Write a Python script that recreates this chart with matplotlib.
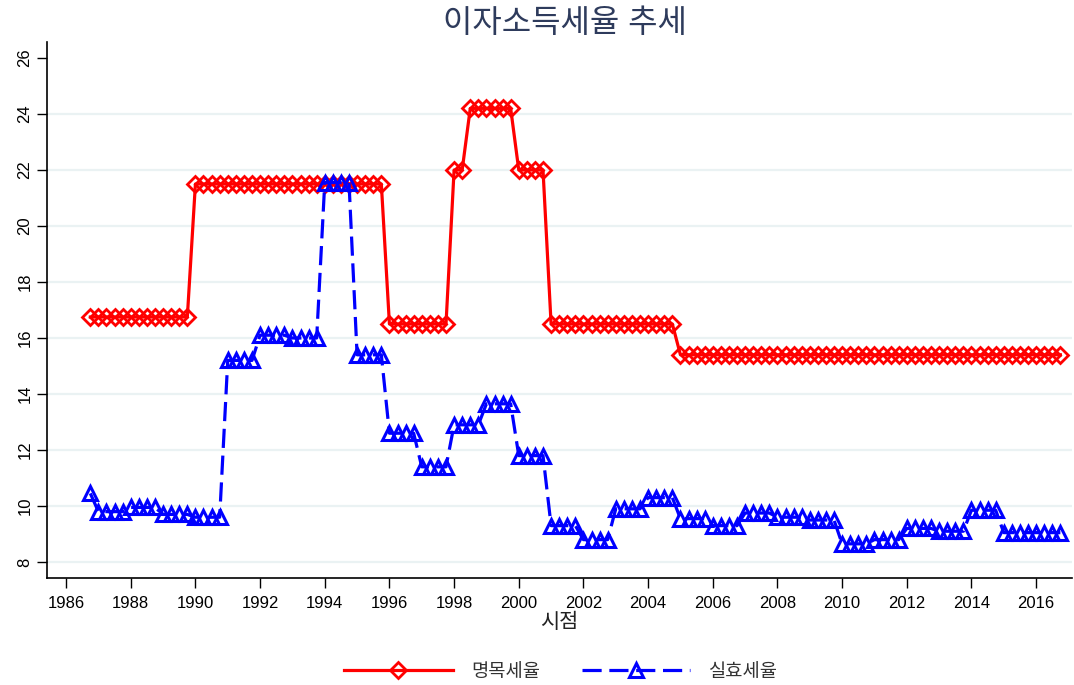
import matplotlib
matplotlib.use("Agg")
import matplotlib.pyplot as plt
import numpy as np

plt.rcParams['font.family'] = ['Liberation Sans', 'Noto Sans CJK KR', 'DejaVu Sans']

# quarterly series, 1986Q4 .. 2016Q4
start_year = 1986
start_quarter = 4

nominal_rate = [
	16.75,
	16.75, 16.75, 16.75, 16.75,  # 1987
	16.75, 16.75, 16.75, 16.75,  # 1988
	16.75, 16.75, 16.75, 16.75,  # 1989
	21.5, 21.5, 21.5, 21.5,  # 1990
	21.5, 21.5, 21.5, 21.5,  # 1991
	21.5, 21.5, 21.5, 21.5,  # 1992
	21.5, 21.5, 21.5, 21.5,  # 1993
	21.5, 21.5, 21.5, 21.5,  # 1994
	21.5, 21.5, 21.5, 21.5,  # 1995
	16.5, 16.5, 16.5, 16.5,  # 1996
	16.5, 16.5, 16.5, 16.5,  # 1997
	22.0, 22.0, 24.2, 24.2,  # 1998
	24.2, 24.2, 24.2, 24.2,  # 1999
	22.0, 22.0, 22.0, 22.0,  # 2000
	16.5, 16.5, 16.5, 16.5,  # 2001
	16.5, 16.5, 16.5, 16.5,  # 2002
	16.5, 16.5, 16.5, 16.5,  # 2003
	16.5, 16.5, 16.5, 16.5,  # 2004
	15.4, 15.4, 15.4, 15.4,  # 2005
	15.4, 15.4, 15.4, 15.4,  # 2006
	15.4, 15.4, 15.4, 15.4,  # 2007
	15.4, 15.4, 15.4, 15.4,  # 2008
	15.4, 15.4, 15.4, 15.4,  # 2009
	15.4, 15.4, 15.4, 15.4,  # 2010
	15.4, 15.4, 15.4, 15.4,  # 2011
	15.4, 15.4, 15.4, 15.4,  # 2012
	15.4, 15.4, 15.4, 15.4,  # 2013
	15.4, 15.4, 15.4, 15.4,  # 2014
	15.4, 15.4, 15.4, 15.4,  # 2015
	15.4, 15.4, 15.4, 15.4,  # 2016
]

effective_rate = [
	10.45,
	9.8, 9.8, 9.8, 9.8,  # 1987
	9.95, 9.95, 9.95, 9.95,  # 1988
	9.7, 9.7, 9.7, 9.7,  # 1989
	9.6, 9.6, 9.6, 9.6,  # 1990
	15.2, 15.2, 15.2, 15.2,  # 1991
	16.1, 16.1, 16.1, 16.1,  # 1992
	16.0, 16.0, 16.0, 16.0,  # 1993
	21.55, 21.55, 21.55, 21.55,  # 1994
	15.4, 15.4, 15.4, 15.4,  # 1995
	12.6, 12.6, 12.6, 12.6,  # 1996
	11.4, 11.4, 11.4, 11.4,  # 1997
	12.9, 12.9, 12.9, 12.9,  # 1998
	13.65, 13.65, 13.65, 13.65,  # 1999
	11.8, 11.8, 11.8, 11.8,  # 2000
	9.3, 9.3, 9.3, 9.3,  # 2001
	8.8, 8.8, 8.8, 8.8,  # 2002
	9.9, 9.9, 9.9, 9.9,  # 2003
	10.3, 10.3, 10.3, 10.3,  # 2004
	9.55, 9.55, 9.55, 9.55,  # 2005
	9.3, 9.3, 9.3, 9.3,  # 2006
	9.75, 9.75, 9.75, 9.75,  # 2007
	9.6, 9.6, 9.6, 9.6,  # 2008
	9.5, 9.5, 9.5, 9.5,  # 2009
	8.65, 8.65, 8.65, 8.65,  # 2010
	8.8, 8.8, 8.8, 8.8,  # 2011
	9.2, 9.2, 9.2, 9.2,  # 2012
	9.1, 9.1, 9.1, 9.1,  # 2013
	9.85, 9.85, 9.85, 9.85,  # 2014
	9.05, 9.05, 9.05, 9.05,  # 2015
	9.05, 9.05, 9.05, 9.05,  # 2016
]

series_labels = ['명목세율', '실효세율']
x_ticks = list(range(1986, 2017, 2))
y_ticks = list(range(8, 27, 2))


def quarter_axis(n):
	# decimal year for each quarter, 1986Q4 -> 1986.75
	return start_year + (start_quarter - 1) / 4 + np.arange(n) / 4


def main():
	t = quarter_axis(len(nominal_rate))

	fig = plt.figure(figsize=(10.74, 6.85), dpi=100)
	ax = fig.add_axes([47 / 1074, 1 - 578 / 685, 1025 / 1074, 536 / 685])

	# horizontal grid, no line at the top tick
	for v in y_ticks[:-1]:
		ax.axhline(v, color='#eaf2f3', lw=1.6, zorder=0)

	ax.plot(t, nominal_rate, color='#ff0000', lw=2.3, marker='D', ms=8.3,
			mfc='none', mec='#ff0000', mew=2.0, label=series_labels[0])
	ax.plot(t, effective_rate, color='#0000ff', lw=2.3, dashes=(6, 2.4),
			marker='^', ms=10, mfc='none', mec='#0000ff', mew=2.2,
			label=series_labels[1])

	ax.set_xlim(1985.41, 2017.11)
	ax.set_ylim(7.43, 26.57)
	ax.set_xticks(x_ticks)
	ax.set_yticks(y_ticks)
	ax.tick_params(axis='both', direction='out', length=7, width=1.0,
				   labelsize=12, colors='black')
	ax.tick_params(axis='x', pad=6)
	for lab in ax.get_yticklabels():
		lab.set_rotation(90)
		lab.set_va('center')

	for side in ['top', 'right']:
		ax.spines[side].set_visible(False)
	for side in ['left', 'bottom']:
		ax.spines[side].set_linewidth(1.2)

	ax.set_xlabel('시점', fontsize=15, labelpad=1, color='#222222')

	fig.text(565 / 1074, 1 - 24 / 685, '이자소득세율 추세', fontsize=23,
			 color='#2e3b5c', ha='center', va='center')

	fig.legend(loc='center', bbox_to_anchor=(561 / 1074, 13 / 685), ncol=2,
			   frameon=False, fontsize=13.5, handlelength=5.8, numpoints=1,
			   columnspacing=2.2, handletextpad=1.0, labelcolor='#333333')

	fig.savefig('out.png', dpi=100)


if __name__ == '__main__':
	main()
